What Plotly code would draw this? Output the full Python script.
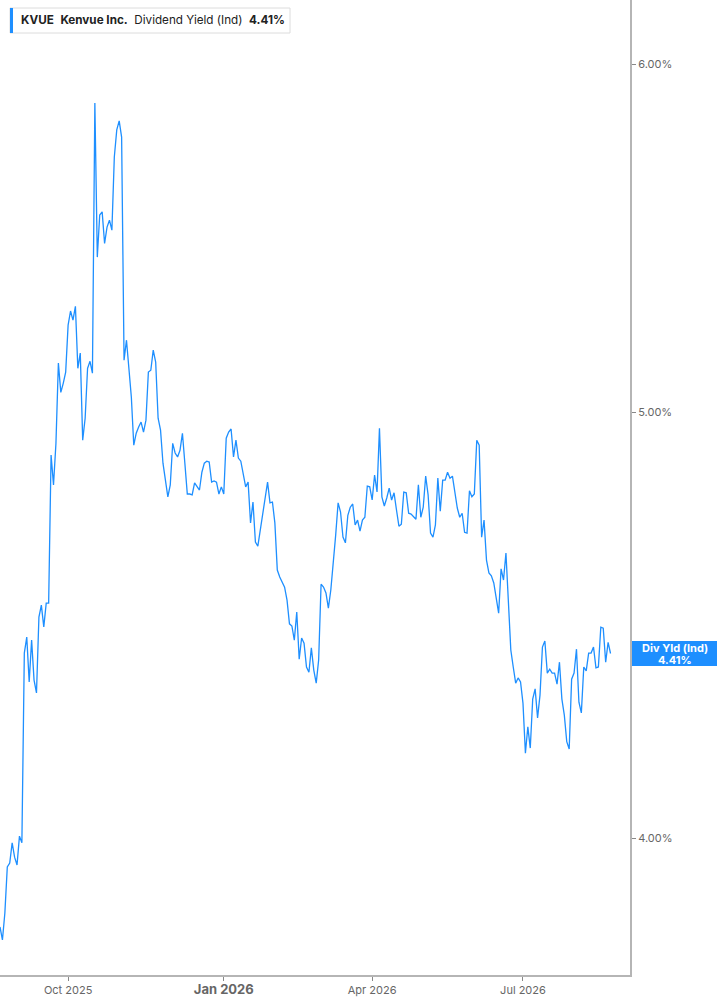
import math
import pandas as pd
import plotly.graph_objects as go

# ---- data ----
start_date = "2025-08-21"
holidays = ["2025-09-01", "2025-11-27", "2025-12-25", "2026-01-01", "2026-01-19",
            "2026-02-16", "2026-04-03", "2026-05-25", "2026-06-19", "2026-07-03"]

div_yield = [
    3.818, 3.792, 3.846, 3.940, 3.948, 3.990, 3.960, 3.944, 4.004, 3.990,
    4.407, 4.444, 4.341, 4.437, 4.345, 4.316, 4.491, 4.519, 4.468, 4.524,
    4.524, 4.889, 4.813, 4.919, 5.130, 5.052, 5.076, 5.106, 5.233, 5.272,
    5.247, 5.285, 5.116, 5.157, 4.927, 4.984, 5.116, 5.135, 5.103, 5.879,
    5.423, 5.544, 5.553, 5.462, 5.509, 5.529, 5.500, 5.715, 5.797, 5.824,
    5.775, 5.138, 5.192, 5.103, 5.039, 4.914, 4.945, 4.961, 4.974, 4.948,
    4.979, 5.106, 5.111, 5.165, 5.133, 4.984, 4.953, 4.868, 4.825, 4.783,
    4.813, 4.919, 4.894, 4.884, 4.901, 4.945, 4.868, 4.790, 4.790, 4.788,
    4.818, 4.810, 4.800, 4.845, 4.868, 4.873, 4.871, 4.820, 4.823, 4.820,
    4.790, 4.808, 4.790, 4.932, 4.948, 4.956, 4.884, 4.927, 4.881, 4.873,
    4.843, 4.808, 4.820, 4.718, 4.770, 4.671, 4.661, 4.700, 4.737, 4.780,
    4.820, 4.768, 4.770, 4.718, 4.603, 4.586, 4.572, 4.562, 4.531, 4.475,
    4.470, 4.437, 4.503, 4.393, 4.442, 4.430, 4.375, 4.363, 4.419, 4.368,
    4.338, 4.391, 4.569, 4.562, 4.548, 4.512, 4.555, 4.615, 4.688, 4.768,
    4.745, 4.683, 4.669, 4.737, 4.757, 4.765, 4.713, 4.725, 4.698, 4.725,
    4.732, 4.810, 4.808, 4.775, 4.838, 4.795, 4.958, 4.783, 4.760, 4.780,
    4.805, 4.775, 4.793, 4.750, 4.710, 4.715, 4.795, 4.793, 4.742, 4.740,
    4.732, 4.727, 4.813, 4.732, 4.757, 4.835, 4.788, 4.693, 4.683, 4.713,
    4.830, 4.747, 4.825, 4.825, 4.845, 4.830, 4.835, 4.793, 4.755, 4.732,
    4.742, 4.695, 4.693, 4.798, 4.783, 4.790, 4.927, 4.914, 4.683, 4.725,
    4.627, 4.596, 4.589, 4.572, 4.538, 4.500, 4.606, 4.579, 4.644, 4.512,
    4.414, 4.375, 4.338, 4.350, 4.341, 4.293, 4.182, 4.240, 4.193, 4.302,
    4.325, 4.260, 4.311, 4.421, 4.435, 4.361, 4.370, 4.361, 4.361, 4.336,
    4.386, 4.302, 4.266, 4.207, 4.191, 4.347, 4.361, 4.416, 4.295, 4.271,
    4.375, 4.366, 4.407, 4.407, 4.421, 4.373, 4.375, 4.467, 4.465, 4.386,
    4.432, 4.406,
]

tick_dates = ["2025-10-01", "2026-01-02", "2026-04-01", "2026-07-01"]
tick_text = ["Oct 2025", "<b><span style='font-size:13px'>Jan 2026</span></b>", "Apr 2026", "Jul 2026"]
y_ticks = [4, 5, 6]
x_range = ["2025-08-21", "2026-09-02"]
y_range = [3.723, 6.205]

ticker = "KVUE"
company = "Kenvue Inc."
metric = "Dividend Yield (Ind)"
short_metric = "Div Yld (Ind)"

# ---- build ----
cbd = pd.offsets.CustomBusinessDay(holidays=holidays)
dates = pd.date_range(start=start_date, periods=len(div_yield), freq=cbd)

BLUE = "#1e8fff"
last = div_yield[-1]

fig = go.Figure()
fig.add_trace(go.Scatter(x=dates, y=div_yield, mode="lines",
                         line=dict(color=BLUE, width=1.3), showlegend=False,
                         hoverinfo="skip"))

W, H = 717, 1005
L, R, T, B = 0, 87, 0, 30
pw, ph = W - L - R, H - T - B
lr0, lr1 = math.log10(y_range[0]), math.log10(y_range[1])

fig.update_layout(
    width=W, height=H,
    margin=dict(l=L, r=R, t=T, b=B, pad=0),
    paper_bgcolor="white", plot_bgcolor="white",
    font=dict(family="Inter, Roboto, sans-serif", color="#555"),
    xaxis=dict(
        type="date", range=x_range,
        rangebreaks=[dict(bounds=["sat", "mon"]), dict(values=holidays)],
        showgrid=False, zeroline=False,
        showline=True, linecolor="#b5b5b5", linewidth=2,
        ticks="outside", ticklen=4, tickcolor="#888", tickwidth=1,
        tickvals=tick_dates, ticktext=tick_text,
        tickfont=dict(size=11, color="#666"),
    ),
    yaxis=dict(
        type="log", side="right",
        range=[lr0, lr1],
        showgrid=False, zeroline=False,
        showline=True, linecolor="#b5b5b5", linewidth=2,
        ticks="outside", ticklen=4, tickcolor="#888", tickwidth=1,
        tickvals=y_ticks, ticktext=[f"{v:.2f}%" for v in y_ticks],
        tickfont=dict(size=11, color="#666"),
    ),
)

# header legend box
bx0, bx1, by0, by1 = 10, 290, 8, 33
fig.add_shape(type="rect", xref="paper", yref="paper",
              x0=bx0 / pw, x1=bx1 / pw, y0=1 - by1 / ph, y1=1 - by0 / ph,
              line=dict(color="#dcdcdc", width=1), fillcolor="white", layer="above")
fig.add_shape(type="rect", xref="paper", yref="paper",
              x0=bx0 / pw, x1=(bx0 + 3) / pw, y0=1 - by1 / ph, y1=1 - by0 / ph,
              line=dict(width=0), fillcolor=BLUE, layer="above")
sp = "&nbsp;&nbsp;"
fig.add_annotation(xref="paper", yref="paper", x=19 / pw, y=1 - ((by0 + by1) / 2) / ph,
                   xanchor="left", yanchor="middle", showarrow=False,
                   text=f"<b>{ticker}</b>{sp}<b>{company}</b>{sp}{metric}{sp}<b>{last:.2f}%</b>",
                   font=dict(size=11.7, color="#222"))

# last value label on right axis
ly = (math.log10(last) - lr0) / (lr1 - lr0)
fig.add_shape(type="rect", xref="paper", yref="paper",
              x0=632 / pw, x1=W / pw,
              y0=ly - 12.5 / ph, y1=ly + 12.5 / ph,
              line=dict(width=0), fillcolor=BLUE, layer="above")
fig.add_annotation(xref="paper", yref="paper", x=(632 + W) / 2 / pw, y=ly,
                   yshift=6, showarrow=False, text=f"<b>{short_metric}</b>",
                   font=dict(size=11, color="white"), xanchor="center", yanchor="middle")
fig.add_annotation(xref="paper", yref="paper", x=(632 + W) / 2 / pw, y=ly,
                   yshift=-6, showarrow=False, text=f"<b>{last:.2f}%</b>",
                   font=dict(size=11, color="white"), xanchor="center", yanchor="middle")

fig.write_html("out.html", config={"displayModeBar": False},
               post_script="document.body.style.margin='0px';")
